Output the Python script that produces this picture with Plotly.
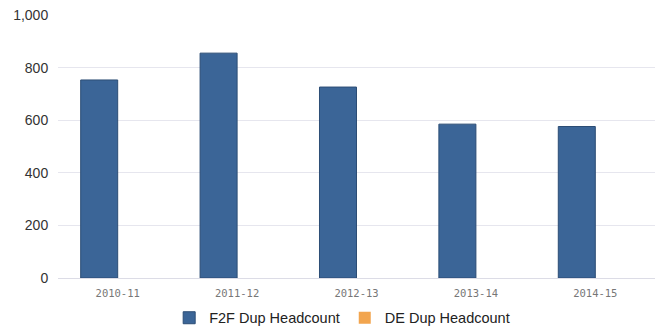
import plotly.graph_objects as go

categories = ["2010-11", "2011-12", "2012-13", "2013-14", "2014-15"]
f2f_values = [753, 855, 726, 585, 576]
de_values = [0, 0, 0, 0, 0]
y_ticks = [0, 200, 400, 600, 800, 1000]

fig = go.Figure()
fig.add_trace(go.Bar(
    x=categories, y=f2f_values, name="F2F Dup Headcount",
    marker=dict(color="#3b6597", line=dict(color="#2c4d75", width=1)),
))
fig.add_trace(go.Bar(
    x=categories, y=de_values, name="DE Dup Headcount",
    marker=dict(color="#f2a54e", line=dict(color="#c9822f", width=0)),
))

fig.update_layout(
    width=657, height=329,
    margin=dict(l=58, r=2, t=15, b=51),
    paper_bgcolor="white", plot_bgcolor="white",
    barmode="group", bargap=0.38, bargroupgap=0,
    font=dict(family="Liberation Sans, Arial, sans-serif", size=14, color="#222"),
    showlegend=True,
    legend=dict(orientation="h", x=0.476, xanchor="center",
                yref="container", y=0.034, yanchor="middle",
                font=dict(size=14.5, color="#222"), itemwidth=30, traceorder="normal"),
    xaxis=dict(
        type="category", showgrid=False, showline=False, zeroline=False,
        tickfont=dict(family="DejaVu Sans Mono, monospace", size=10.5, color="#777"),
        ticks="outside", ticklen=5, tickcolor="rgba(0,0,0,0)",
    ),
    yaxis=dict(
        range=[0, 1000], tickvals=y_ticks, tickformat=",",
        showgrid=True, gridcolor="#e6e6ee", gridwidth=1,
        zeroline=True, zerolinecolor="#dcdce6", zerolinewidth=1,
        showline=False, ticks="outside", ticklen=6, tickcolor="rgba(0,0,0,0)",
        tickfont=dict(family="Liberation Sans, Arial, sans-serif", size=14, color="#333"),
    ),
)

fig.write_html("out.html")
